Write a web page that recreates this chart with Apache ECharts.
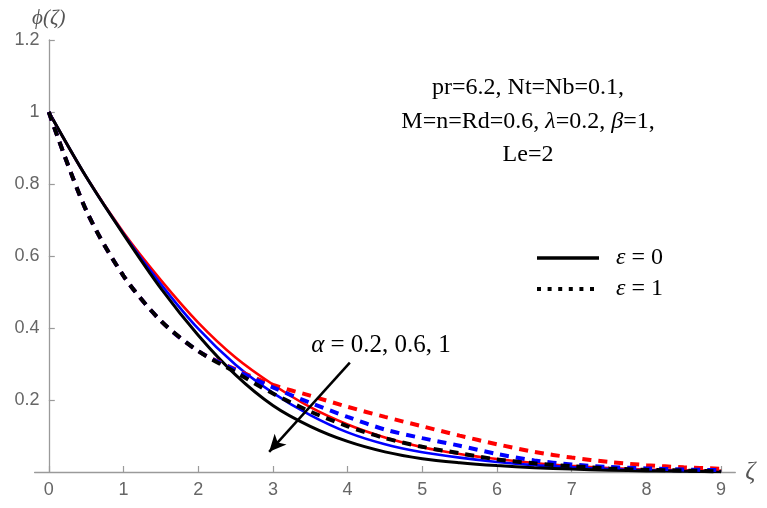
<!DOCTYPE html>
<html><head><meta charset="utf-8">
<script src="https://cdn.jsdelivr.net/npm/echarts@6/dist/echarts.min.js"></script>
<style>html,body{margin:0;padding:0;background:#fff}#c{width:767px;height:508px}</style>
</head><body><div id="c"></div>
<script>
// ---- data ----
const zeta = [0,0.5,1,1.5,2,2.5,3,3.5,4,4.5,5,5.5,6,6.5,7,7.5,8,8.5,9];
// eps = 0 (solid)
const redSolid   = [1,0.82,0.665,0.533,0.415,0.318,0.243,0.18,0.132,0.096,0.069,0.05,0.036,0.025,0.017,0.011,0.007,0.005,0.003];
const blueSolid  = [1,0.82,0.662,0.522,0.398,0.298,0.22,0.158,0.11,0.077,0.055,0.04,0.028,0.019,0.013,0.008,0.005,0.003,0.002];
const blackSolid = [1,0.82,0.66,0.51,0.38,0.27,0.185,0.127,0.085,0.056,0.037,0.026,0.018,0.012,0.008,0.005,0.003,0.002,0.001];
// eps = 1 (dashed)
const redDashed   = [1,0.727,0.545,0.42,0.336,0.285,0.242,0.212,0.181,0.153,0.127,0.101,0.077,0.056,0.04,0.028,0.019,0.013,0.009];
const blueDashed  = [1,0.727,0.545,0.42,0.336,0.283,0.235,0.192,0.153,0.118,0.094,0.073,0.05,0.032,0.021,0.014,0.01,0.007,0.005];
const blackDashed = [1,0.727,0.545,0.42,0.336,0.277,0.218,0.168,0.127,0.094,0.07,0.052,0.035,0.024,0.016,0.01,0.006,0.004,0.002];
const xTicks = [0,1,2,3,4,5,6,7,8,9];
const yTicks = [0.2,0.4,0.6,0.8,1,1.2];
const legendNames = ['ε = 0','ε = 1'];
const arrowFrom = [4.03, 0.304];
const arrowTo = [2.95, 0.056];

// ---- chart ----
const pairs = ys => zeta.map((x, i) => [x, ys[i]]);
const AX = '#9a9a9a', LB = '#666666';
const SERIF = '"Liberation Serif","Times New Roman",serif';
const SANS = '"Liberation Sans",Arial,sans-serif';
const FS = 24;

function mk(name, ys, color, dashed, w) {
  return {
    type: 'line', name: name, data: pairs(ys), symbol: 'none', showSymbol: false,
    smooth: 0.3, silent: true,
    lineStyle: { color: color, width: w, type: dashed ? [9, 7] : 'solid' },
    itemStyle: { color: color }
  };
}
const series = [
  mk(legendNames[0], redSolid, '#ff0000', false, 2.6),
  mk(legendNames[0], blueSolid, '#0000ff', false, 2.6),
  mk(legendNames[0], blackSolid, '#000000', false, 3),
  mk(legendNames[1], redDashed, '#ff0000', true, 4),
  mk(legendNames[1], blueDashed, '#0000ff', true, 4),
  mk(legendNames[1], blackDashed, '#000000', true, 4)
];
series[5].markLine = {
  silent: true, animation: false, symbol: ['none', 'arrow'], symbolSize: [12, 17],
  label: { show: false },
  lineStyle: { color: '#000', width: 2.5, type: 'solid' },
  emphasis: { disabled: true },
  data: [[{ coord: arrowFrom }, { coord: arrowTo }]]
};

const chart = echarts.init(document.getElementById('c'), null, { renderer: 'canvas' });
chart.setOption({
  animation: false,
  backgroundColor: '#fff',
  grid: { left: 34.6, right: 31.7, top: 40, bottom: 36, containLabel: false },
  xAxis: {
    type: 'value', min: -0.19, max: 9.19,
    name: 'ζ', nameLocation: 'end', nameGap: 10,
    nameTextStyle: { fontFamily: SERIF, fontStyle: 'italic', fontSize: 25, color: '#555', verticalAlign: 'middle' },
    axisLine: { onZero: true, lineStyle: { color: AX, width: 1.3 } },
    axisTick: { inside: true, length: 6, customValues: xTicks, lineStyle: { color: AX, width: 1.2 } },
    axisLabel: { customValues: xTicks, color: LB, fontFamily: SANS, fontSize: 18, margin: 9 },
    splitLine: { show: false }
  },
  yAxis: {
    type: 'value', min: 0, max: 1.2,
    name: 'ϕ(ζ)', nameLocation: 'end', nameGap: 11,
    nameTextStyle: { fontFamily: SERIF, fontStyle: 'italic', fontSize: 21, color: '#555', align: 'center' },
    axisLine: { onZero: true, lineStyle: { color: AX, width: 1.3 } },
    axisTick: { inside: true, length: 6, customValues: yTicks, lineStyle: { color: AX, width: 1.2 } },
    axisLabel: { customValues: yTicks, color: LB, fontFamily: SANS, fontSize: 18, margin: -5 },
    splitLine: { show: false }
  },
  legend: {
    orient: 'vertical', left: 530, top: 239, itemWidth: 62, itemHeight: 14, itemGap: 3,
    selectedMode: false,
    textStyle: { fontFamily: SERIF, fontSize: FS, color: '#000', lineHeight: 28, padding: [0, 0, 0, 12],
      rich: { e: { fontFamily: SERIF, fontStyle: 'italic', fontSize: FS, color: '#000' } } },
    formatter: n => '{e|ε}' + n.slice(1),
    data: [
      { name: legendNames[0], lineStyle: { color: '#000', width: 3.5, type: 'solid' }, itemStyle: { color: 'rgba(0,0,0,0)', borderWidth: 0 } },
      { name: legendNames[1], lineStyle: { color: '#000', width: 4, type: [4, 6.6] }, itemStyle: { color: 'rgba(0,0,0,0)', borderWidth: 0 } }
    ]
  },
  graphic: [
    {
      type: 'text', x: 528, y: 71, silent: true,
      style: {
        text: 'pr=6.2, Nt=Nb=0.1,\nM=n=Rd=0.6, {i|λ}=0.2, {i|β}=1,\nLe=2',
        fontFamily: SERIF, fontSize: FS, lineHeight: 33.5, fill: '#000',
        align: 'center', verticalAlign: 'top',
        rich: { i: { fontFamily: SERIF, fontStyle: 'italic', fontSize: FS, lineHeight: 33.5, fill: '#000' } }
      }
    },
    {
      type: 'text', x: 381, y: 345, silent: true,
      style: {
        text: '{i|α} = 0.2, 0.6, 1',
        fontFamily: SERIF, fontSize: 25, fill: '#000',
        align: 'center', verticalAlign: 'middle',
        rich: { i: { fontFamily: SERIF, fontStyle: 'italic', fontSize: 25, fill: '#000' } }
      }
    }
  ],
  series: series
});
</script>
</body></html>
